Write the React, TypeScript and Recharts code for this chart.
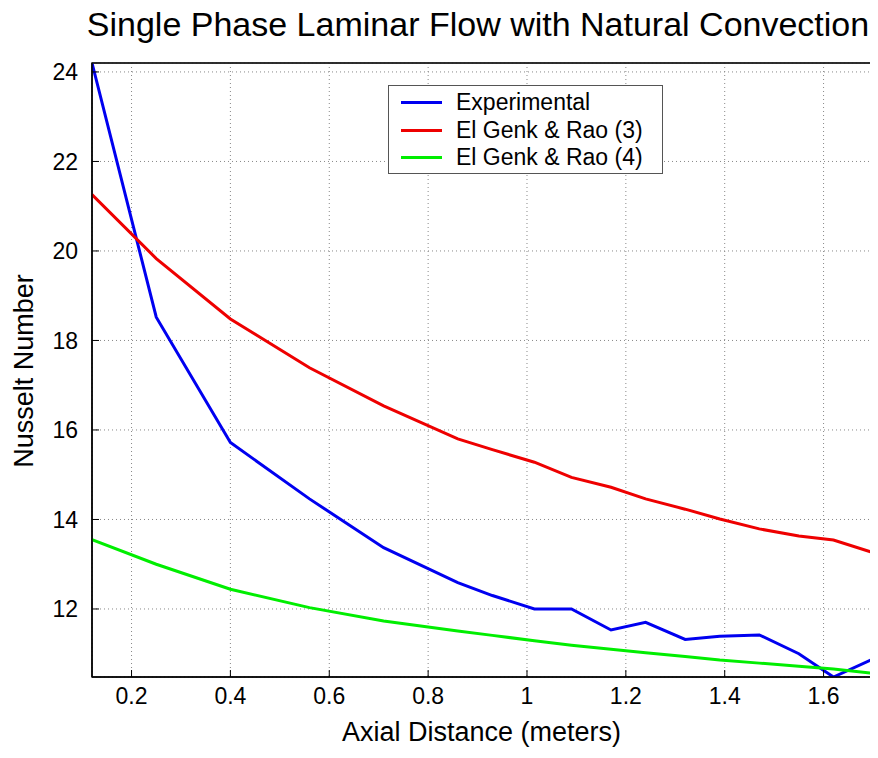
import { LineChart, Line, XAxis, YAxis, CartesianGrid, Legend, ReferenceArea } from 'recharts';

// axial distance (m) where the curves were sampled
const distance = [0.12, 0.25, 0.4, 0.56, 0.71, 0.86, 0.93, 1.015, 1.09, 1.17, 1.24, 1.32, 1.39, 1.47, 1.55, 1.62, 1.7];
const experimental = [24.2, 18.52, 15.72, 14.46, 13.37, 12.59, 12.3, 12.0, 12.0, 11.53, 11.7, 11.32, 11.39, 11.42, 11.0, 10.48, 10.88];
const elGenkRao3 = [21.26, 19.83, 18.48, 17.39, 16.54, 15.8, 15.56, 15.28, 14.94, 14.72, 14.46, 14.23, 14.01, 13.79, 13.63, 13.54, 13.26];
const elGenkRao4 = [13.55, 13.0, 12.44, 12.03, 11.73, 11.51, 11.41, 11.29, 11.19, 11.1, 11.02, 10.94, 10.86, 10.79, 10.72, 10.66, 10.56];

const seriesNames = ['Experimental', 'El Genk & Rao (3)', 'El Genk & Rao (4)'];
const xTicks = [0.2, 0.4, 0.6, 0.8, 1, 1.2, 1.4, 1.6];
const yTicks = [12, 14, 16, 18, 20, 22, 24];
const xDomain = [0.12, 1.7];
const yDomain = [10.48, 24.2];

const data = distance.map((x, i) => ({
  x,
  exp: experimental[i],
  rao3: elGenkRao3[i],
  rao4: elGenkRao4[i],
}));

const FONT = '"Liberation Sans", Arial, Helvetica, sans-serif';
const tickStyle = { fontSize: 23, fill: '#000', fontFamily: FONT };

// chart box (kept inside the 878x758 window)
const W = 870;
const H = 742;

function LegendBox({ payload }: any) {
  // keep the plotting order regardless of how the payload comes in
  const items = [...(payload || [])].sort(
    (a: any, b: any) => seriesNames.indexOf(a.value) - seriesNames.indexOf(b.value)
  );
  return (
    <div
      style={{
        width: 273,
        height: 87,
        border: '1px solid #555',
        background: '#fff',
        fontFamily: FONT,
        fontSize: 23,
        color: '#000',
      }}
    >
      {items.map((entry: any, i: number) => (
        <div key={i} style={{ position: 'relative', height: 27.5, top: 3 }}>
          <div style={{ position: 'absolute', left: 12, top: 12, width: 41, height: 3, background: entry.color }} />
          <div style={{ position: 'absolute', left: 67, top: 0, lineHeight: '27px', whiteSpace: 'nowrap' }}>
            {entry.value}
          </div>
        </div>
      ))}
    </div>
  );
}

export default function App() {
  return (
    <div style={{ position: 'relative', width: W, height: H, fontFamily: FONT, background: '#fff' }}>
      <div
        style={{
          position: 'absolute',
          left: 470,
          top: -1,
          transform: 'translateX(-50%)',
          whiteSpace: 'nowrap',
          fontSize: 34,
          lineHeight: '34px',
          color: '#000',
        }}
      >
        Single Phase Laminar Flow with Natural Convection
      </div>
      <div
        style={{
          position: 'absolute',
          left: 473.5,
          top: 711,
          transform: 'translateX(-50%)',
          whiteSpace: 'nowrap',
          fontSize: 27,
          lineHeight: '27px',
          color: '#000',
        }}
      >
        Axial Distance (meters)
      </div>
      <div
        style={{
          position: 'absolute',
          left: 16,
          top: 362.5,
          transform: 'translate(-50%, -50%) rotate(-90deg)',
          whiteSpace: 'nowrap',
          fontSize: 27,
          lineHeight: '27px',
          color: '#000',
        }}
      >
        Nusselt Number
      </div>
      <div style={{ position: 'absolute', left: 0, top: 0 }}>
        <LineChart width={W} height={H} data={data} margin={{ top: 54, right: 4, left: 0, bottom: 0 }}>
          <CartesianGrid stroke="#888" strokeDasharray="1 3" />
          <XAxis
            dataKey="x"
            type="number"
            domain={xDomain}
            ticks={xTicks}
            allowDataOverflow
            height={73}
            tick={tickStyle}
            tickSize={-7}
            tickMargin={18}
            axisLine={{ stroke: '#000', strokeWidth: 1.5 }}
            tickLine={{ stroke: '#000' }}
          />
          <XAxis
            xAxisId="top"
            orientation="top"
            dataKey="x"
            type="number"
            domain={xDomain}
            ticks={xTicks}
            allowDataOverflow
            height={1}
            tick={false}
            tickSize={-7}
            axisLine={{ stroke: '#222', strokeWidth: 1.5 }}
            tickLine={{ stroke: '#000' }}
          />
          <YAxis
            type="number"
            domain={yDomain}
            ticks={yTicks}
            allowDataOverflow
            width={84}
            tick={tickStyle}
            tickSize={-7}
            tickMargin={21}
            axisLine={{ stroke: '#000', strokeWidth: 1.5 }}
            tickLine={{ stroke: '#000' }}
          />
          <YAxis
            yAxisId="right"
            orientation="right"
            type="number"
            domain={yDomain}
            ticks={yTicks}
            allowDataOverflow
            width={1}
            tick={false}
            tickSize={-7}
            axisLine={{ stroke: '#222', strokeWidth: 1.5 }}
            tickLine={{ stroke: '#000' }}
          />
          {/* box around the plot area */}
          <ReferenceArea
            x1={xDomain[0]}
            x2={xDomain[1]}
            y1={yDomain[0]}
            y2={yDomain[1]}
            fill="none"
            stroke="#222"
            strokeWidth={1.5}
            ifOverflow="visible"
          />
          <Legend
            layout="vertical"
            align="center"
            verticalAlign="middle"
            content={<LegendBox />}
            wrapperStyle={{ left: 380, top: 77, width: 275, height: 89 }}
          />
          <Line name={seriesNames[0]} type="linear" dataKey="exp" stroke="#0000f0" strokeWidth={3} dot={false} isAnimationActive={false} />
          <Line name={seriesNames[1]} type="linear" dataKey="rao3" stroke="#ee0000" strokeWidth={3} dot={false} isAnimationActive={false} />
          <Line name={seriesNames[2]} type="linear" dataKey="rao4" stroke="#00ee00" strokeWidth={3} dot={false} isAnimationActive={false} />
        </LineChart>
      </div>
    </div>
  );
}
